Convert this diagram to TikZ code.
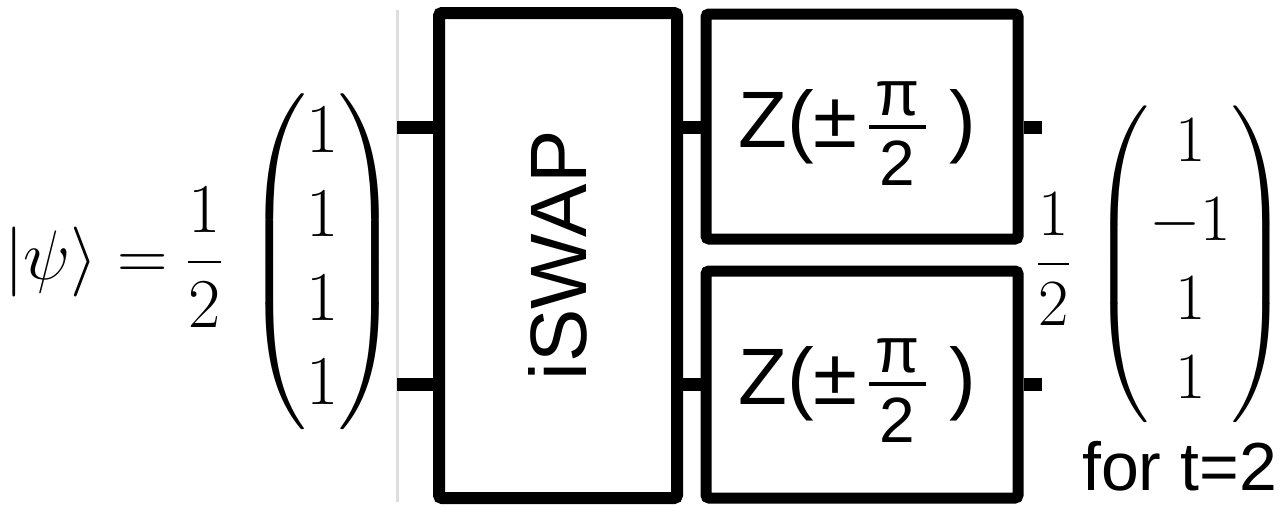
\RequirePackage{fix-cm}
\documentclass[tikz,border=0pt]{standalone}
\usepackage{amsmath}
\DeclareFontFamily{OMX}{cmex}{}
\DeclareFontShape{OMX}{cmex}{m}{n}{<->cmex10}{}
\usepackage{fontspec}
\newfontfamily\helv{Liberation Sans}
\newcommand\zgatetext{{\helv\fontsize{80}{96}\selectfont Z(±\hspace{10pt}$\genfrac{}{}{4pt}{1}{\makebox[57pt]{\fontsize{64}{70}\selectfont π}}{\makebox[57pt]{\fontsize{64}{70}\selectfont\rule{0pt}{52pt}2}}$\hspace{22pt})}}
\tikzset{
  wire/.style={line width=13pt},
  gatebox/.style={draw, line width=11pt, rounded corners=3pt, inner sep=0pt, fill=white},
  formula/.style={inner sep=0pt},
  gatelbl/.style={inner sep=0pt, anchor=base},
}
\begin{document}
\begin{tikzpicture}[x=1pt,y=-1pt]
\useasboundingbox (0,0) rectangle (1288,507);
% faint guide line
\coordinate (gtop) at (397,10);
\coordinate (gbot) at (397,502);
\draw[line width=3pt, black!13] (gtop) -- (gbot);
% gates
\node[gatebox, line width=12pt, minimum width=238pt, minimum height=485pt] (iswap) at (558,255.5)
  {\rotatebox{90}{\helv\fontsize{80}{96}\selectfont iSWAP}};
\node[gatebox, minimum width=312pt, minimum height=225pt] (z1) at (862,126.5) {};
\node[gatebox, minimum width=312pt, minimum height=227pt] (z2) at (862,384.5) {};
\node[gatelbl] (z1lbl) at (857,147) {\zgatetext};
\node[gatelbl] (z2lbl) at (857,404) {\zgatetext};
% wires
\coordinate (in1) at (397,127);
\coordinate (in2) at (397,384);
\coordinate (out1) at (1042,127);
\coordinate (out2) at (1042,384);
\draw[wire] (in1) -- (in1 -| iswap.west);
\draw[wire] (in2) -- (in2 -| iswap.west);
\draw[wire] (iswap.east |- in1) -- (z1.west |- in1);
\draw[wire] (iswap.east |- in2) -- (z2.west |- in2);
\draw[wire] (z1.east |- out1) -- (out1);
\draw[wire] (z2.east |- out2) -- (out2);
% formulas
\node[formula, anchor=west, font=\fontsize{70}{84}\selectfont] (psi) at (4,262)
  {$|\psi\rangle = \dfrac{1}{2}\,\begin{pmatrix}1\\1\\1\\1\end{pmatrix}$};
\node[formula, anchor=west, font=\fontsize{66}{79.2}\selectfont] (res) at (1037,264)
  {$\dfrac{1}{2}\,\begin{pmatrix}1\\-1\\1\\1\end{pmatrix}$};
\node[formula, anchor=base west, font=\helv\fontsize{68}{80}\selectfont] (cond) at (1082,490) {for t=2};
\end{tikzpicture}
\end{document}
